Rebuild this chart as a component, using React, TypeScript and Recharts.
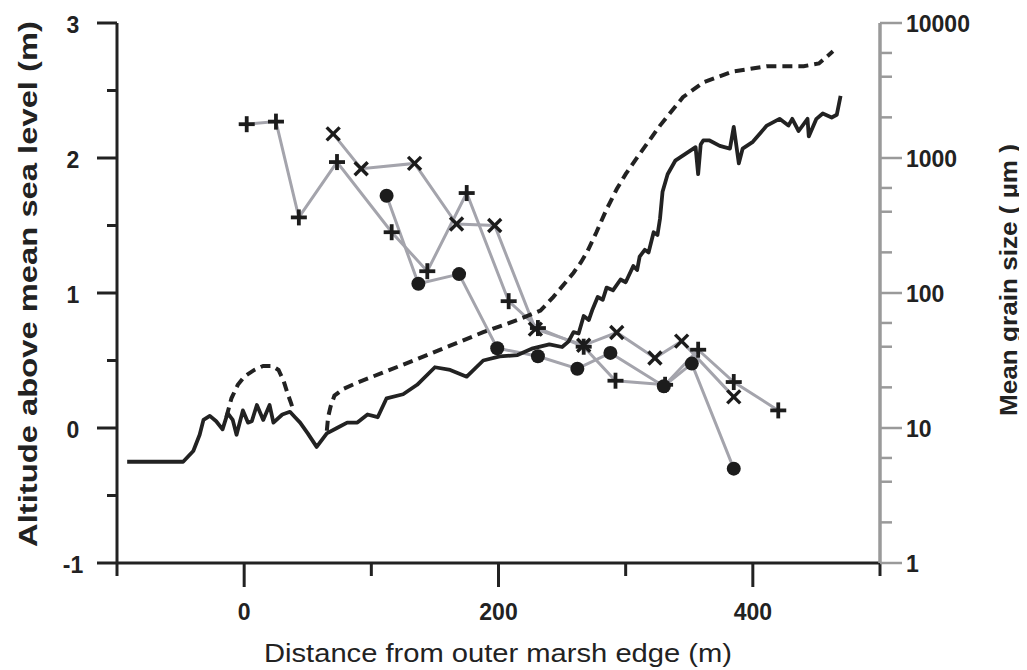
import React from "react";
import { ComposedChart, Line, XAxis, YAxis } from "recharts";

// Surface altitude along the transect (m above mean sea level)
const altitudeProfile: [number, number][] = [
  [-92, -0.25], [-48, -0.25], [-40, -0.17], [-35, -0.05], [-32, 0.06], [-27, 0.09],
  [-22, 0.05], [-17, -0.01], [-13, 0.11], [-9, 0.06], [-6, -0.05], [-1, 0.13],
  [3, 0.04], [6, 0.05], [10, 0.17], [15, 0.06], [20, 0.17], [23, 0.04], [30, 0.1],
  [36, 0.12], [40, 0.08], [44, 0.04], [50, -0.04], [57, -0.14], [65, -0.04],
  [73, 0.0], [81, 0.04], [89, 0.04], [97, 0.1], [105, 0.08], [112, 0.22],
  [125, 0.25], [136, 0.32], [150, 0.45], [162, 0.43], [175, 0.38], [188, 0.5],
  [201, 0.53], [215, 0.54], [227, 0.59], [240, 0.62], [250, 0.6], [255, 0.64],
  [259, 0.71], [263, 0.7], [267, 0.83], [271, 0.8], [274, 0.88], [278, 0.97],
  [282, 0.95], [285, 1.04], [290, 1.02], [296, 1.1], [300, 1.08], [306, 1.2],
  [309, 1.17], [311, 1.27], [315, 1.32], [318, 1.3], [322, 1.45], [325, 1.43],
  [327, 1.55], [329, 1.75], [333, 1.88], [339, 1.98], [347, 2.03], [355, 2.08],
  [357, 1.88], [359, 2.1], [361, 2.13], [366, 2.13], [374, 2.09], [382, 2.07],
  [385, 2.23], [389, 1.96], [392, 2.07], [400, 2.12], [411, 2.24], [421, 2.29],
  [428, 2.24], [431, 2.29], [436, 2.2], [443, 2.29], [444, 2.16], [450, 2.29],
  [455, 2.33], [462, 2.3], [466, 2.32], [469, 2.46],
];

// Second altitude profile (dashed), with a gap between its two stretches
const dashedProfile: [number, number | null][] = [
  [-14, 0.08], [-10, 0.22], [-5, 0.32], [0, 0.38], [8, 0.43], [15, 0.46],
  [22, 0.46], [27, 0.43], [31, 0.35], [34, 0.26], [37, 0.18], [39, 0.12],
  [52, null],
  [65, -0.02], [66, 0.08], [68, 0.16], [71, 0.24], [78, 0.29], [90, 0.34],
  [109, 0.41], [136, 0.51], [162, 0.61], [188, 0.71], [215, 0.8], [233, 0.87],
  [243, 0.97], [252, 1.07], [259, 1.15], [265, 1.23], [270, 1.31], [277, 1.45],
  [285, 1.62], [293, 1.77], [300, 1.88], [311, 2.03], [327, 2.24], [345, 2.45],
  [361, 2.56], [384, 2.64], [411, 2.68], [440, 2.68], [452, 2.7], [463, 2.79],
];

// Mean grain size samples (µm), three sampling sets
const grainPlus: [number, number][] = [
  [2, 1780], [25, 1860], [43, 363], [73, 933], [116, 282], [144, 145], [175, 550],
  [208, 87], [231, 55], [267, 40], [292, 22.4], [331, 20.9], [357, 38], [385, 21.9],
  [420, 13.5],
];
const grainCross: [number, number][] = [
  [70, 1510], [92, 832], [134, 912], [167, 324], [197, 316], [229, 54], [267, 41],
  [293, 51], [323, 33], [344, 44], [385, 17],
];
const grainDot: [number, number][] = [
  [112, 525], [137, 117], [169, 138], [199, 39], [231, 34], [262, 27.5], [288, 36],
  [330, 20.4], [352, 30], [385, 5.0],
];

const xTicks = [-100, 0, 100, 200, 300, 400, 500];
const xTickLabels = [0, 200, 400];
const leftTicks = [-1, -0.5, 0, 0.5, 1, 1.5, 2, 2.5, 3];
const rightMajor = [1, 10, 100, 1000, 10000];
const rightTicks: number[] = [];
for (let d = 0; d < 4; d++) {
  for (let k = 1; k < 10; k++) rightTicks.push(k * Math.pow(10, d));
}
rightTicks.push(10000);

const toRows = (pts: [number, number | null][]) => pts.map(([x, y]) => ({ x, y }));

const INK = "#222";
const GREY_LINE = "#a4a4ac";
const GREY_AXIS = "#9a9a9a";
const FONT = "'Liberation Sans', Arial, sans-serif";

const XTick = (props: any) => {
  const { x, y, payload } = props;
  const major = xTickLabels.includes(payload.value);
  return (
    <g>
      <line x1={x} x2={x} y1={y} y2={y + (major ? 24 : 13)} stroke={INK} strokeWidth={3} />
      {major && (
        <text x={x} y={y + 49} textAnchor="middle" dominantBaseline="central"
          fontFamily={FONT} fontWeight="bold" fontSize={23} fill={INK}>
          {payload.value}
        </text>
      )}
    </g>
  );
};

const LeftTick = (props: any) => {
  const { x, y, payload } = props;
  const major = Number.isInteger(payload.value);
  return (
    <g>
      <line x1={x - (major ? 20 : 10)} x2={x} y1={y} y2={y} stroke={INK} strokeWidth={3} />
      {major && (
        <text x={x - 44} y={y + 2} textAnchor="middle" dominantBaseline="central"
          fontFamily={FONT} fontWeight="bold" fontSize={23} fill={INK}>
          {payload.value}
        </text>
      )}
    </g>
  );
};

const RightTick = (props: any) => {
  const { x, y, payload } = props;
  const major = rightMajor.includes(payload.value);
  return (
    <g>
      <line x1={x} x2={x + (major ? 22 : 12)} y1={y} y2={y} stroke={GREY_AXIS} strokeWidth={2.5} />
      {major && (
        <text x={x + 26} y={y + 1} textAnchor="start" dominantBaseline="central"
          fontFamily={FONT} fontWeight="bold" fontSize={23} fill={INK}>
          {payload.value}
        </text>
      )}
    </g>
  );
};

const PlusMark = (props: any) => {
  const { cx, cy } = props;
  if (cx == null || cy == null) return null;
  return (
    <g stroke="#1c1c1c" strokeWidth={3.8}>
      <line x1={cx - 8} x2={cx + 8} y1={cy} y2={cy} />
      <line x1={cx} x2={cx} y1={cy - 8} y2={cy + 8} />
    </g>
  );
};

const CrossMark = (props: any) => {
  const { cx, cy } = props;
  if (cx == null || cy == null) return null;
  return (
    <g stroke="#1c1c1c" strokeWidth={3.4}>
      <line x1={cx - 6.5} x2={cx + 6.5} y1={cy - 6.5} y2={cy + 6.5} />
      <line x1={cx - 6.5} x2={cx + 6.5} y1={cy + 6.5} y2={cy - 6.5} />
    </g>
  );
};

const DotMark = (props: any) => {
  const { cx, cy } = props;
  if (cx == null || cy == null) return null;
  return <circle cx={cx} cy={cy} r={7} fill="#1c1c1c" />;
};

const LeftTitle = () => (
  <text transform="translate(20,276) rotate(-90)" textAnchor="middle" dominantBaseline="central"
    fontFamily={FONT} fontWeight="bold" fontSize={25} fill={INK}
    textLength={526} lengthAdjust="spacingAndGlyphs">
    Altitude above mean sea level (m)
  </text>
);

const RightTitle = () => (
  <text transform="translate(1000,272) rotate(-90)" textAnchor="middle" dominantBaseline="central"
    fontFamily={FONT} fontWeight="bold" fontSize={24} fill={INK}
    textLength={272} lengthAdjust="spacingAndGlyphs">
    Mean grain size ( µm )
  </text>
);

const BottomTitle = () => (
  <text x={490} y={645} textAnchor="middle" dominantBaseline="central"
    fontFamily={FONT} fontSize={26} fill={INK}
    textLength={468} lengthAdjust="spacingAndGlyphs">
    Distance from outer marsh edge (m)
  </text>
);

export default function App() {
  return (
    <ComposedChart width={1019} height={662} margin={{ top: 15, right: 0, bottom: 0, left: 0 }}>
      <XAxis type="number" dataKey="x" domain={[-100, 500]} ticks={xTicks} allowDataOverflow
        height={107} tickSize={0} tickMargin={0} tick={<XTick />} tickLine={false}
        axisLine={{ stroke: INK, strokeWidth: 3 }} label={<BottomTitle />} />
      <YAxis yAxisId="alt" type="number" domain={[-1, 3]} ticks={leftTicks} allowDataOverflow
        width={109} tickSize={0} tickMargin={0} tick={<LeftTick />} tickLine={false}
        axisLine={{ stroke: INK, strokeWidth: 3 }} label={<LeftTitle />} />
      <YAxis yAxisId="grain" orientation="right" type="number" scale="log" domain={[1, 10000]}
        ticks={rightTicks} allowDataOverflow width={147} tickSize={0} tickMargin={0}
        tick={<RightTick />} tickLine={false} axisLine={{ stroke: GREY_AXIS, strokeWidth: 3.5 }}
        label={<RightTitle />} />

      <Line yAxisId="grain" data={toRows(grainPlus)} dataKey="y" stroke={GREY_LINE}
        strokeWidth={3} dot={<PlusMark />} activeDot={false} isAnimationActive={false} />
      <Line yAxisId="grain" data={toRows(grainCross)} dataKey="y" stroke={GREY_LINE}
        strokeWidth={3} dot={<CrossMark />} activeDot={false} isAnimationActive={false} />
      <Line yAxisId="grain" data={toRows(grainDot)} dataKey="y" stroke={GREY_LINE}
        strokeWidth={3} dot={<DotMark />} activeDot={false} isAnimationActive={false} />

      <Line yAxisId="alt" data={toRows(dashedProfile)} dataKey="y" stroke={INK}
        strokeWidth={4} strokeDasharray="10 6" dot={false} activeDot={false}
        connectNulls={false} isAnimationActive={false} />
      <Line yAxisId="alt" data={toRows(altitudeProfile)} dataKey="y" stroke={INK}
        strokeWidth={3.8} strokeLinejoin="round" dot={false} activeDot={false}
        isAnimationActive={false} />
    </ComposedChart>
  );
}
